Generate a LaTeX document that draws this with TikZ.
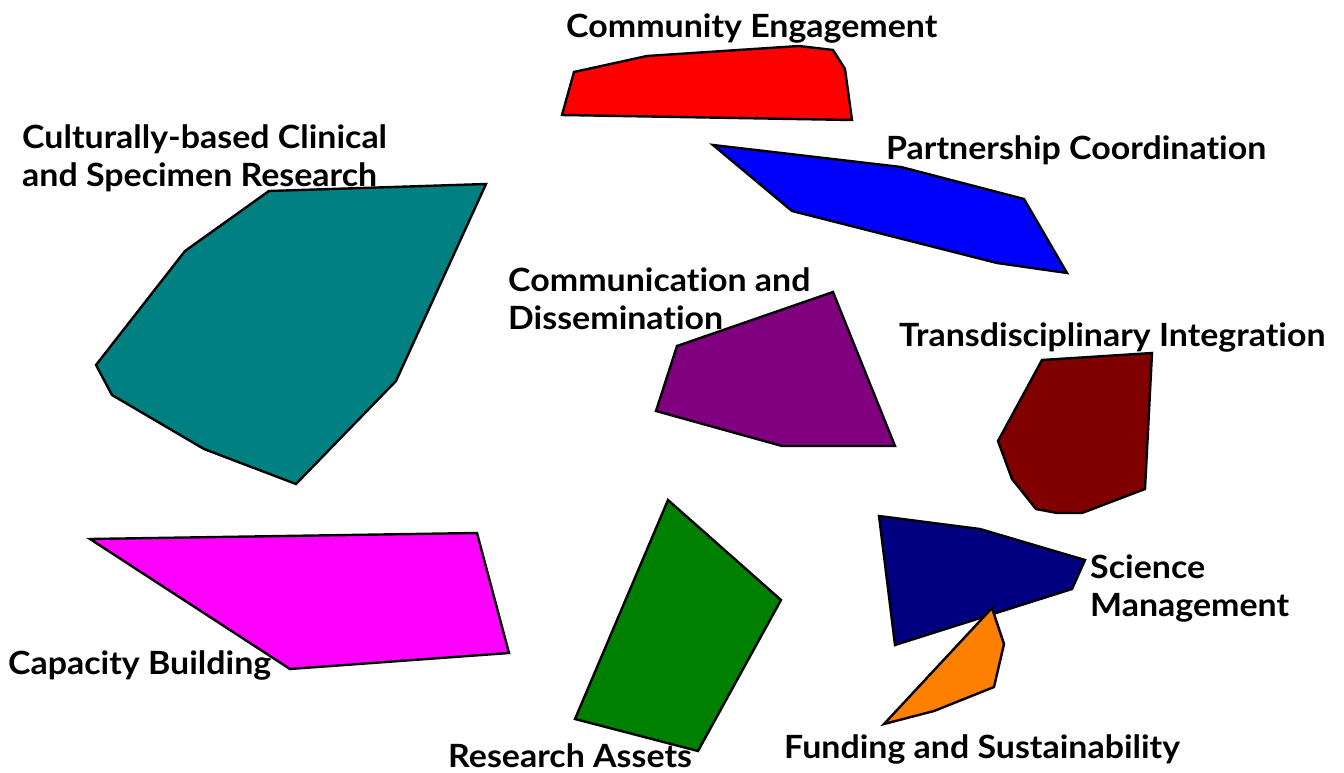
\documentclass[tikz,border=0pt]{standalone}
\usepackage{fontspec}
\setmainfont{Lato}[Ligatures=NoCommon, FakeStretch=1.06]
\begin{document}
\begin{tikzpicture}[x=1pt, y=-1pt]
% Set the picture size and the looks
\tikzset{area/.style={draw=black, line width=2.4pt, line join=miter},
         lbl/.style={anchor=base west, inner sep=0pt, align=left,
                     font=\fontsize{32}{38}\selectfont\bfseries}}
\useasboundingbox (0, 0) rectangle (1344, 773);

% Draw the areas
\draw[area, fill={rgb,255:red,255;green,0;blue,0}] (574, 72) -- (647, 56) -- (799, 46) -- (833, 50) -- (845, 69) -- (852, 120) -- (562, 115) -- cycle;
\draw[area, fill={rgb,255:red,0;green,0;blue,255}] (713, 145) -- (901, 167) -- (1024, 199) -- (1067, 273) -- (997, 263) -- (792, 211) -- cycle;
\draw[area, fill={rgb,255:red,0;green,128;blue,128}] (269, 191) -- (486, 184) -- (396, 381) -- (296, 484) -- (204, 449) -- (112, 395) -- (96, 365) -- (185, 251) -- cycle;
\draw[area, fill={rgb,255:red,128;green,0;blue,128}] (833, 292) -- (895, 446) -- (782, 446) -- (656, 411) -- (677, 346) -- cycle;
\draw[area, fill={rgb,255:red,128;green,0;blue,0}] (1042, 360) -- (1152, 353) -- (1145, 489) -- (1082, 513) -- (1057, 513) -- (1036, 509) -- (1012, 479) -- (998, 441) -- cycle;
\draw[area, fill={rgb,255:red,255;green,0;blue,255}] (90, 539) -- (477, 533) -- (509, 653) -- (290, 669) -- cycle;
\draw[area, fill={rgb,255:red,0;green,128;blue,0}] (668, 500) -- (781, 600) -- (698, 751) -- (575, 719) -- cycle;
\draw[area, fill={rgb,255:red,0;green,0;blue,128}] (879, 516) -- (980, 529) -- (1085, 560) -- (1072, 589) -- (895, 645) -- cycle;
\draw[area, fill={rgb,255:red,255;green,128;blue,0}] (992, 608) -- (1004, 644) -- (994, 687) -- (934, 711) -- (884, 724) -- cycle;

% Insert the labels (two-line labels sit on their last line)
\node[lbl] (community) at (566, 38) {Community Engagement};
\node[lbl] (cultural) at (22, 186) {Culturally-based Clinical\\and Specimen Research};
\node[lbl] (partner) at (886, 160) {Partnership Coordination};
\node[lbl] (commdiss) at (508, 329) {Communication and\\Dissemination};
\node[lbl] (transdisc) at (899, 346) {Transdisciplinary Integration};
\node[lbl] (science) at (1090, 616) {Science\\Management};
\node[lbl] (capacity) at (8, 674) {Capacity Building};
\node[lbl] (assets) at (448, 767) {Research Assets};
\node[lbl] (funding) at (784, 758) {Funding and Sustainability};
\end{tikzpicture}
\end{document}
